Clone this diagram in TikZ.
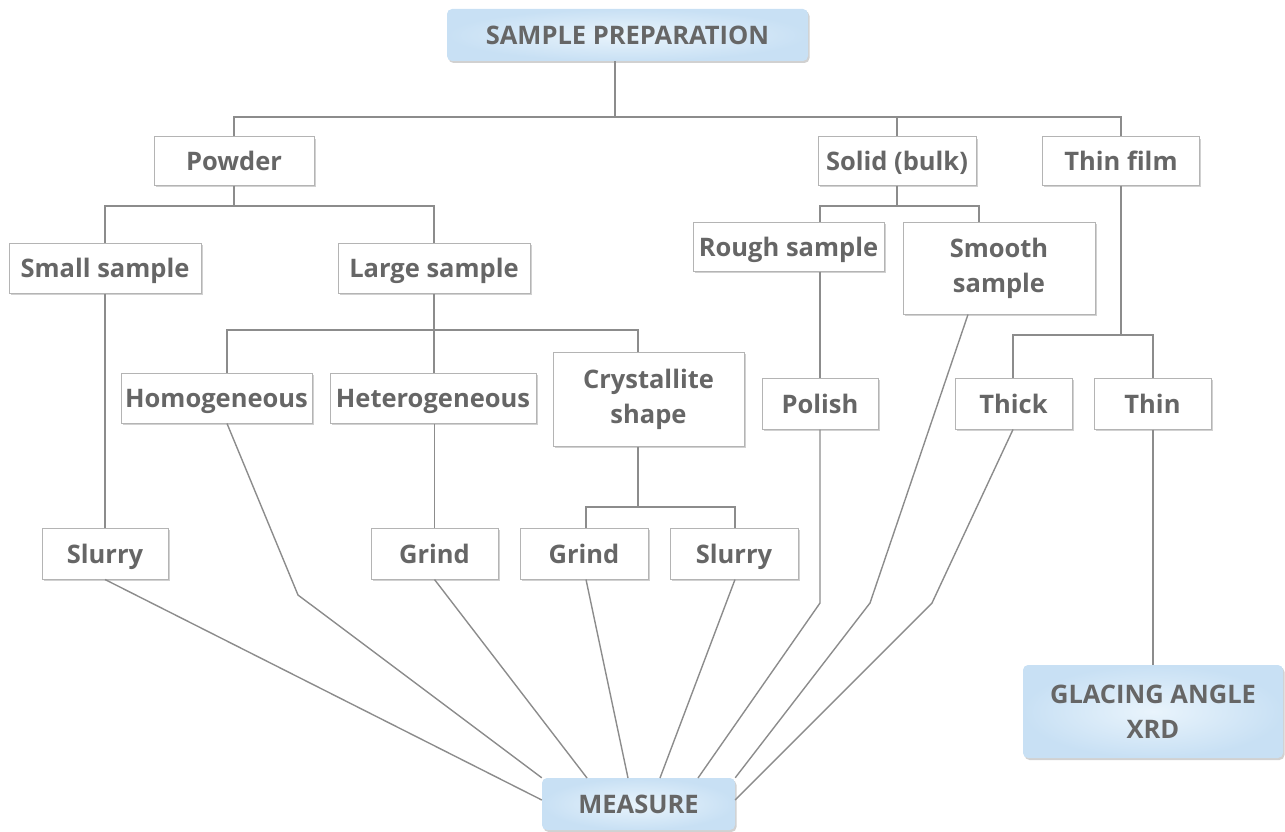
\documentclass[tikz,border=0pt]{standalone}
\usepackage{fontspec}
\setmainfont{Open Sans}
\usetikzlibrary{shadows}
\definecolor{txt}{HTML}{666666}
\definecolor{wire}{HTML}{8C8C8C}
\definecolor{edge}{HTML}{B4B4B4}
\definecolor{blueout}{HTML}{C8E0F4}
\definecolor{bluein}{HTML}{E9F4FC}
\begin{document}
\begin{tikzpicture}[x=1pt,y=-1pt,
  every node/.style={inner sep=0pt, text=txt,
    font=\fontsize{25.5}{35}\selectfont\bfseries, align=center},
  one/.style={text height=24pt, text depth=5pt},
  leaf/.style={draw=edge, line width=1pt, fill=white,
    drop shadow={shadow xshift=1.5pt, shadow yshift=-2pt, opacity=0.3, fill=black!60}},
  head/.style={draw=none, rounded corners=5pt, inner color=bluein, outer color=blueout,
    drop shadow={shadow xshift=1.5pt, shadow yshift=-2pt, opacity=0.3, fill=black!60}},
  wire/.style={draw=wire, line width=1.4pt},
  box/.style n args={2}{minimum width=#1, minimum height=#2}]
\useasboundingbox (0,0) rectangle (1285,832);

% ---- headline boxes
\node[head, one, box={361}{52}] (prep)    at (627.5,35)  {SAMPLE PREPARATION};
\node[head, one, box={193}{52}] (measure) at (638.5,804) {MEASURE};
\node[head, box={260}{93}] (glacing) at (1153,711.5) {GLACING ANGLE\\XRD};

% ---- first level
\node[leaf, one, box={160}{48}] (powder)   at (234,161)    {Powder};
\node[leaf, one, box={158}{48}] (solid)    at (897,161)    {Solid (bulk)};
\node[leaf, one, box={157}{48}] (thinfilm) at (1121,161)   {Thin film};

% ---- second level
\node[leaf, one, box={192}{50}] (small)  at (105,268)   {Small sample};
\node[leaf, one, box={192}{50}] (large)  at (434,268)   {Large sample};
\node[leaf, one, box={191}{49}] (rough)  at (788.5,246.5) {Rough sample};
\node[leaf, box={192}{92}] (smooth) at (999,268)   {Smooth\\sample};

% ---- third level
\node[leaf, one, box={191}{50}]  (homog)   at (216.5,398) {Homogeneous};
\node[leaf, one, box={206}{50}]  (heterog) at (433,398)   {Heterogeneous};
\node[leaf, box={191}{94}]  (cryst)   at (648.5,399) {Crystallite\\shape};
\node[leaf, one, box={116}{51}]  (polish)  at (820,403.5) {Polish};
\node[leaf, one, box={117}{51}]  (thick)   at (1013.5,403.5) {Thick};
\node[leaf, one, box={117}{51}]  (thin)    at (1152.5,403.5) {Thin};

% ---- fourth level
\node[leaf, one, box={126}{51}] (slurryA) at (105,553.5)   {Slurry};
\node[leaf, one, box={127}{51}] (grindA)  at (434.5,553.5) {Grind};
\node[leaf, one, box={128}{51}] (grindB)  at (584,553.5)   {Grind};
\node[leaf, one, box={128}{51}] (slurryB) at (734,553.5)   {Slurry};

% ---- bus points of the tree
\coordinate (b0) at (615,117);
\coordinate (bpow) at (234,206);
\coordinate (bsol) at (897,206);
\coordinate (rx) at (820,206);
\coordinate (sx) at (979,206);
\coordinate (blarge) at (434,330);
\coordinate (hx) at (227,330);
\coordinate (cx) at (638,330);
\coordinate (bcry) at (638,507);
\coordinate (g2x) at (586,507);
\coordinate (s2x) at (735,507);
\coordinate (bthin) at (1121,335);
\coordinate (tkx) at (1013,335);
\coordinate (tnx) at (1153,335);

% root
\draw[wire] (prep.south -| b0) -- (b0);
\draw[wire] (powder.north) |- (b0) -| (thinfilm.north);
\draw[wire] (solid.north) -- (solid.north |- b0);
% powder branch
\draw[wire] (powder.south) -- (bpow);
\draw[wire] (small.north) |- (bpow) -| (large.north);
% solid branch
\draw[wire] (solid.south) -- (bsol);
\draw[wire] (rough.north -| rx) -- (rx) -- (sx) -- (smooth.north -| sx);
\draw[wire] (rough.south -| rx) -- (polish.north);
% thin film branch
\draw[wire] (thinfilm.south) -- (bthin);
\draw[wire] (thick.north -| tkx) -- (tkx) -- (tnx) -- (thin.north -| tnx);
\draw[wire] (thin.south -| tnx) -- (glacing.north -| tnx);
% large sample branch
\draw[wire] (large.south) -- (blarge);
\draw[wire] (homog.north -| hx) -- (hx) -- (cx) -- (cryst.north -| cx);
\draw[wire] (heterog.north -| blarge) -- (blarge);
% crystallite branch
\draw[wire] (cryst.south -| bcry) -- (bcry);
\draw[wire] (grindB.north -| g2x) -- (g2x) -- (s2x) -- (slurryB.north -| s2x);
% straight drops
\draw[wire] (small.south) -- (slurryA.north);
\draw[wire] (heterog.south -| grindA) -- (grindA.north);

% ---- everything converges on MEASURE
\draw[wire] (slurryA.south) -- (measure.west |- 0,800);
\draw[wire] (homog.south -| hx) -- (298,595) -- (measure.north west);
\draw[wire] (grindA.south) -- (587,778);
\draw[wire] (grindB.south -| g2x) -- (628,778);
\draw[wire] (slurryB.south -| s2x) -- (660,778);
\draw[wire] (polish.south) -- (820,603) -- (698,778);
\draw[wire] (smooth.south -| 968,0) -- (870,603) -- (measure.north east);
\draw[wire] (thick.south -| tkx) -- (932,603) -- (measure.east |- 0,800);
\end{tikzpicture}
\end{document}
